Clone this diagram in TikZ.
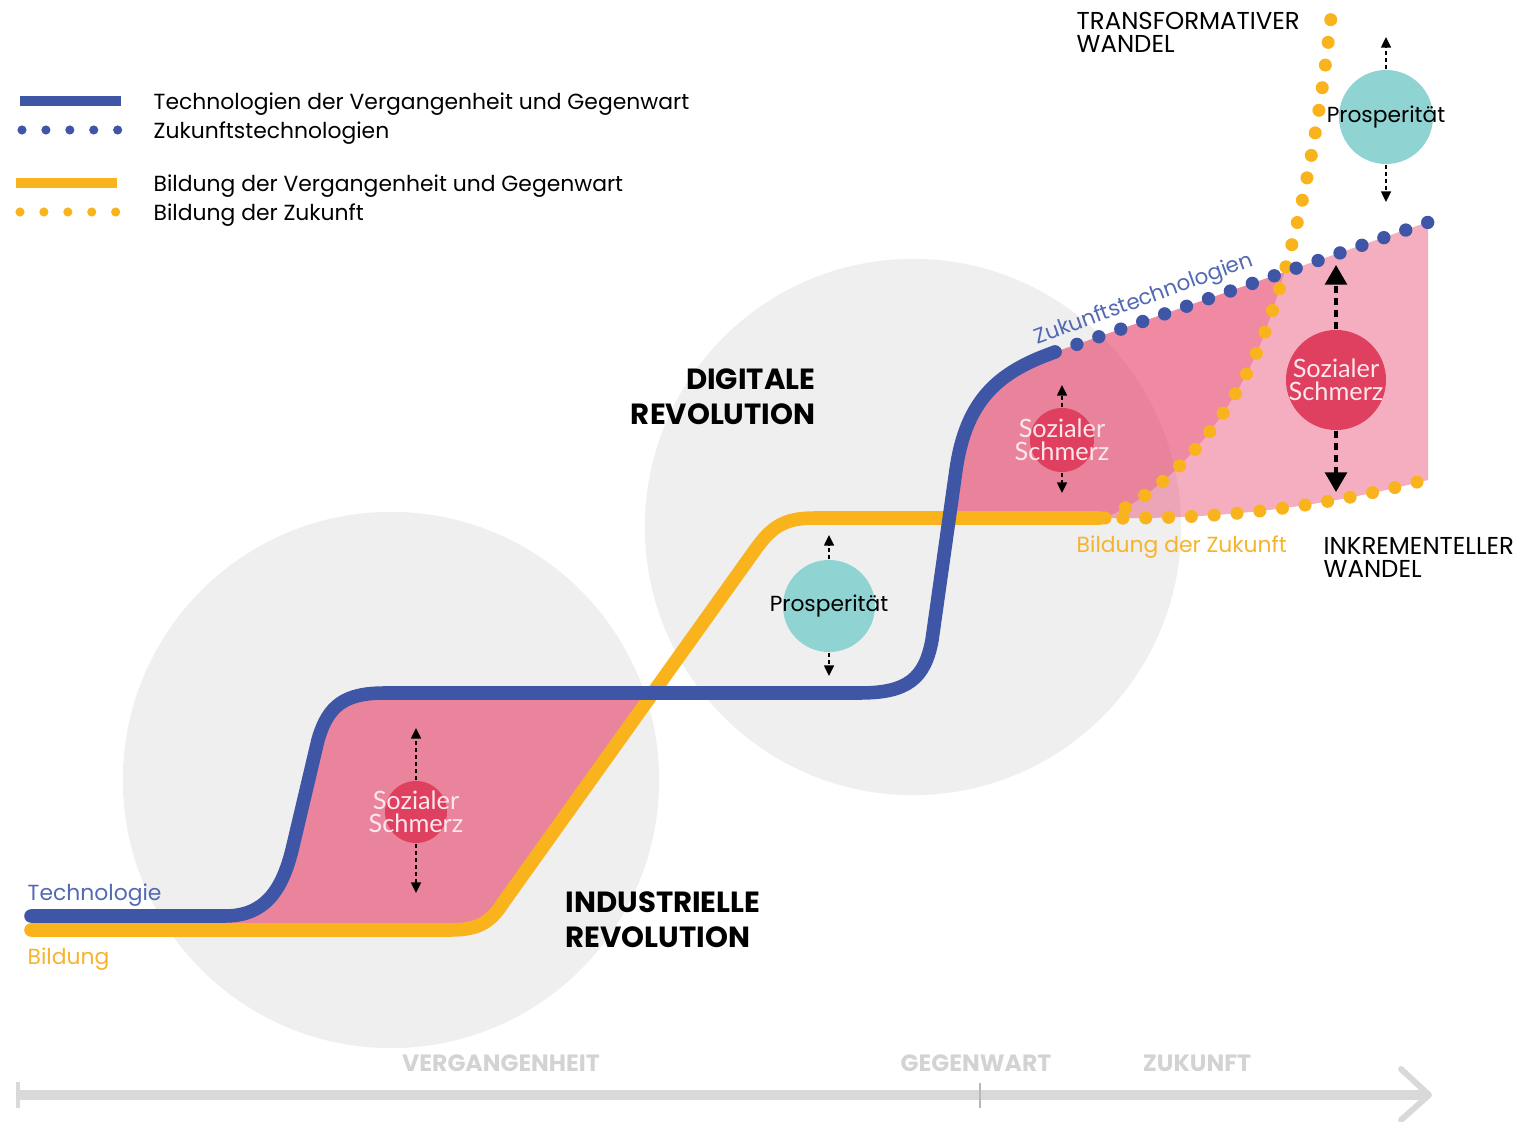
\documentclass[tikz,border=0pt]{standalone}
\usepackage{fontspec}
\setmainfont{Poppins}
\newfontfamily\painfont{Lato}
\usetikzlibrary{arrows.meta}

\definecolor{techblue}{HTML}{3F56A6}
\definecolor{techtext}{HTML}{5269B3}
\definecolor{bildorange}{HTML}{F8B31D}
\definecolor{bildtext}{HTML}{F6B42E}
\definecolor{painpink}{HTML}{E8446C}
\definecolor{painred}{HTML}{E0405F}
\definecolor{painwhite}{HTML}{FDE7EC}
\definecolor{prosteal}{HTML}{8FD3D3}
\definecolor{circgrey}{HTML}{EFEFEF}
\definecolor{axisgrey}{HTML}{D9D9D9}
\definecolor{axistext}{HTML}{D3D3D3}

\tikzset{
  techline/.style={techblue, line width=3.85pt, line cap=round},
  bildline/.style={bildorange, line width=3.85pt, line cap=round},
  techdots/.style={techblue, line width=3.8pt, line cap=round, dash pattern=on 0pt off 6.6pt},
  bilddots/.style={bildorange, line width=3.7pt, line cap=round, dash pattern=on 0pt off 6.5pt},
  legdots/.style={line width=2.6pt, line cap=round, dash pattern=on 0pt off 6.8pt},
  paindot/.style={circle, fill=painred, inner sep=0pt},
  prosdot/.style={circle, fill=prosteal, inner sep=0pt},
  painlabel/.style={align=center, text=painwhite, font=\painfont\fontsize{7.2}{6.6}\selectfont},
  proslabel/.style={font=\fontsize{6.2}{7}\selectfont},
  smallarrow/.style={-{Triangle[length=3pt,width=2.8pt]}, line width=0.45pt, dash pattern=on 1.1pt off 0.9pt},
  bigarrow/.style={-{Triangle[length=5.6pt,width=6.2pt]}, line width=1pt, dash pattern=on 2pt off 1.4pt},
  legendtext/.style={anchor=base west, inner sep=0pt, font=\fontsize{6.22}{8}\selectfont},
  wandeltext/.style={anchor=north west, inner sep=0pt, align=left, font=\fontsize{6.95}{6.55}\selectfont},
  revtext/.style={inner sep=0pt, font=\bfseries\fontsize{8.3}{9.96}\selectfont},
  axislabel/.style={inner sep=0pt, text=axistext, font=\bfseries\fontsize{6.7}{7}\selectfont}
}

\begin{document}
\begin{tikzpicture}[x=0.01cm, y=-0.01cm]
  \useasboundingbox (0,0) rectangle (1524,1122);

  % grey backdrop circles
  \fill[circgrey] (391,780) circle[radius=2.68cm];
  \fill[circgrey] (913,527) circle[radius=2.68cm];

  % time axis
  \draw[axisgrey, line width=3.1pt] (18,1095) -- (1428,1095);
  \draw[axisgrey, line width=0.9pt] (18,1082) -- (18,1108);
  \draw[axisgrey!85!black, line width=0.6pt] (980,1083) -- (980,1108);
  \draw[axisgrey, line width=1.7pt, line cap=round, line join=round]
    (1401,1069) -- (1429,1095) -- (1401,1120);
  \node[axislabel] (past) at (501,1063) {VERGANGENHEIT};
  \node[axislabel] (present) at (976,1063) {GEGENWART};
  \node[axislabel] (future) at (1197,1063) {ZUKUNFT};

  % social pain zones
  \fill[painpink, fill opacity=0.63]
    (225,916) .. controls (265,916) and (282,890) .. (292,850) -- (318,740)
    .. controls (328,705) and (345,693) .. (385,693) -- (653,693) -- (505,900)
    .. controls (492,920) and (482,930) .. (450,930) -- (225,930) -- cycle;
  \fill[painpink, fill opacity=0.43]
    (949,518) -- (956,470) .. controls (966,400) and (998,372) .. (1055,352)
    -- (1428,222) -- (1428,480) .. controls (1330,505) and (1230,520) .. (1100,518) -- cycle;
  \begin{scope}
    \clip (1105,518) .. controls (1170,490) and (1230,420) .. (1262,340)
      .. controls (1300,240) and (1320,120) .. (1331,15) -- (900,15) -- (900,530) -- (1105,530) -- cycle;
    \fill[painpink, fill opacity=0.35]
      (949,518) -- (956,470) .. controls (966,400) and (998,372) .. (1055,352)
      -- (1428,222) -- (1428,480) .. controls (1330,505) and (1230,520) .. (1100,518) -- cycle;
  \end{scope}

  % education
  \draw[bildline] (31,930) -- (450,930) .. controls (482,930) and (492,920) .. (505,900)
    -- (755,550) .. controls (772,526) and (785,518) .. (815,518) -- (1100,518);
  \draw[bilddots] (1100,518) .. controls (1230,520) and (1330,505) .. (1425,480);
  \draw[bilddots] (1105,518) .. controls (1170,490) and (1230,420) .. (1262,340)
    .. controls (1300,240) and (1320,120) .. (1331,17);

  % technology
  \draw[techline] (31,916) -- (225,916) .. controls (265,916) and (282,890) .. (292,850)
    -- (318,740) .. controls (328,705) and (345,693) .. (385,693) -- (860,693)
    .. controls (908,693) and (925,678) .. (932,640) -- (956,470)
    .. controls (966,400) and (998,372) .. (1055,352);
  \draw[techdots] (1055,352) -- (1429,222);

  % prosperity and social pain
  \node[paindot, minimum size=0.62cm, label={[painlabel]center:{Sozialer\\Schmerz}}] (pain1) at (416,812) {};
  \coordinate (pain1up) at (416,728);
  \coordinate (pain1down) at (416,893);
  \draw[smallarrow] (pain1) -- (pain1up);
  \draw[smallarrow] (pain1) -- (pain1down);

  \node[paindot, minimum size=0.64cm, label={[painlabel]center:{Sozialer\\Schmerz}}] (pain2) at (1062,440) {};
  \coordinate (pain2up) at (1062,385);
  \coordinate (pain2down) at (1062,493);
  \draw[smallarrow] (pain2) -- (pain2up);
  \draw[smallarrow] (pain2) -- (pain2down);

  \node[paindot, minimum size=1.0cm, label={[painlabel]center:{Sozialer\\Schmerz}}] (pain3) at (1336,380) {};
  \coordinate (pain3up) at (1336,265);
  \coordinate (pain3down) at (1336,492);
  \draw[bigarrow] (pain3) -- (pain3up);
  \draw[bigarrow] (pain3) -- (pain3down);

  \node[prosdot, minimum size=0.92cm, label={[proslabel]center:Prosperität}] (pros1) at (829,606) {};
  \coordinate (pros1up) at (829,535);
  \coordinate (pros1down) at (829,676);
  \draw[smallarrow] (pros1) -- (pros1up);
  \draw[smallarrow] (pros1) -- (pros1down);

  \node[prosdot, minimum size=0.94cm, label={[proslabel]center:Prosperität}] (pros2) at (1386,117) {};
  \coordinate (pros2up) at (1386,37);
  \coordinate (pros2down) at (1386,202);
  \draw[smallarrow] (pros2) -- (pros2up);
  \draw[smallarrow] (pros2) -- (pros2down);

  % curve labels
  \node[legendtext, text=techtext] (techlabel) at (27,900) {Technologie};
  \node[legendtext, text=bildtext] (bildlabel) at (27,965) {Bildung};
  \node[legendtext, text=bildtext] (futbildlabel) at (1076,553) {Bildung der Zukunft};
  \node[inner sep=0pt, rotate=20, text=techtext, font=\fontsize{6.1}{8}\selectfont]
    (futtechlabel) at (1144,300) {Zukunftstechnologien};
  \node[wandeltext] (transform) at (1076,12) {TRANSFORMATIVER\\WANDEL};
  \node[wandeltext] (increment) at (1323,537) {INKREMENTELLER\\WANDEL};
  \node[revtext, anchor=north east, align=right] (digital) at (816,368) {DIGITALE\\REVOLUTION};
  \node[revtext, anchor=north west, align=left] (industrial) at (565,891) {INDUSTRIELLE\\REVOLUTION};

  % legend
  \draw[techblue, line width=2.85pt] (20,101) -- (121,101);
  \draw[techblue, legdots] (22,130) -- (118,130);
  \draw[bildorange, line width=2.85pt] (16,183) -- (117,183);
  \draw[bildorange, legdots] (20,212) -- (116,212);
  \node[legendtext] (legtech) at (153,110) {Technologien der Vergangenheit und Gegenwart};
  \node[legendtext] (legtechfut) at (153,139) {Zukunftstechnologien};
  \node[legendtext] (legbild) at (153,192) {Bildung der Vergangenheit und Gegenwart};
  \node[legendtext] (legbildfut) at (153,221) {Bildung der Zukunft};
\end{tikzpicture}
\end{document}
